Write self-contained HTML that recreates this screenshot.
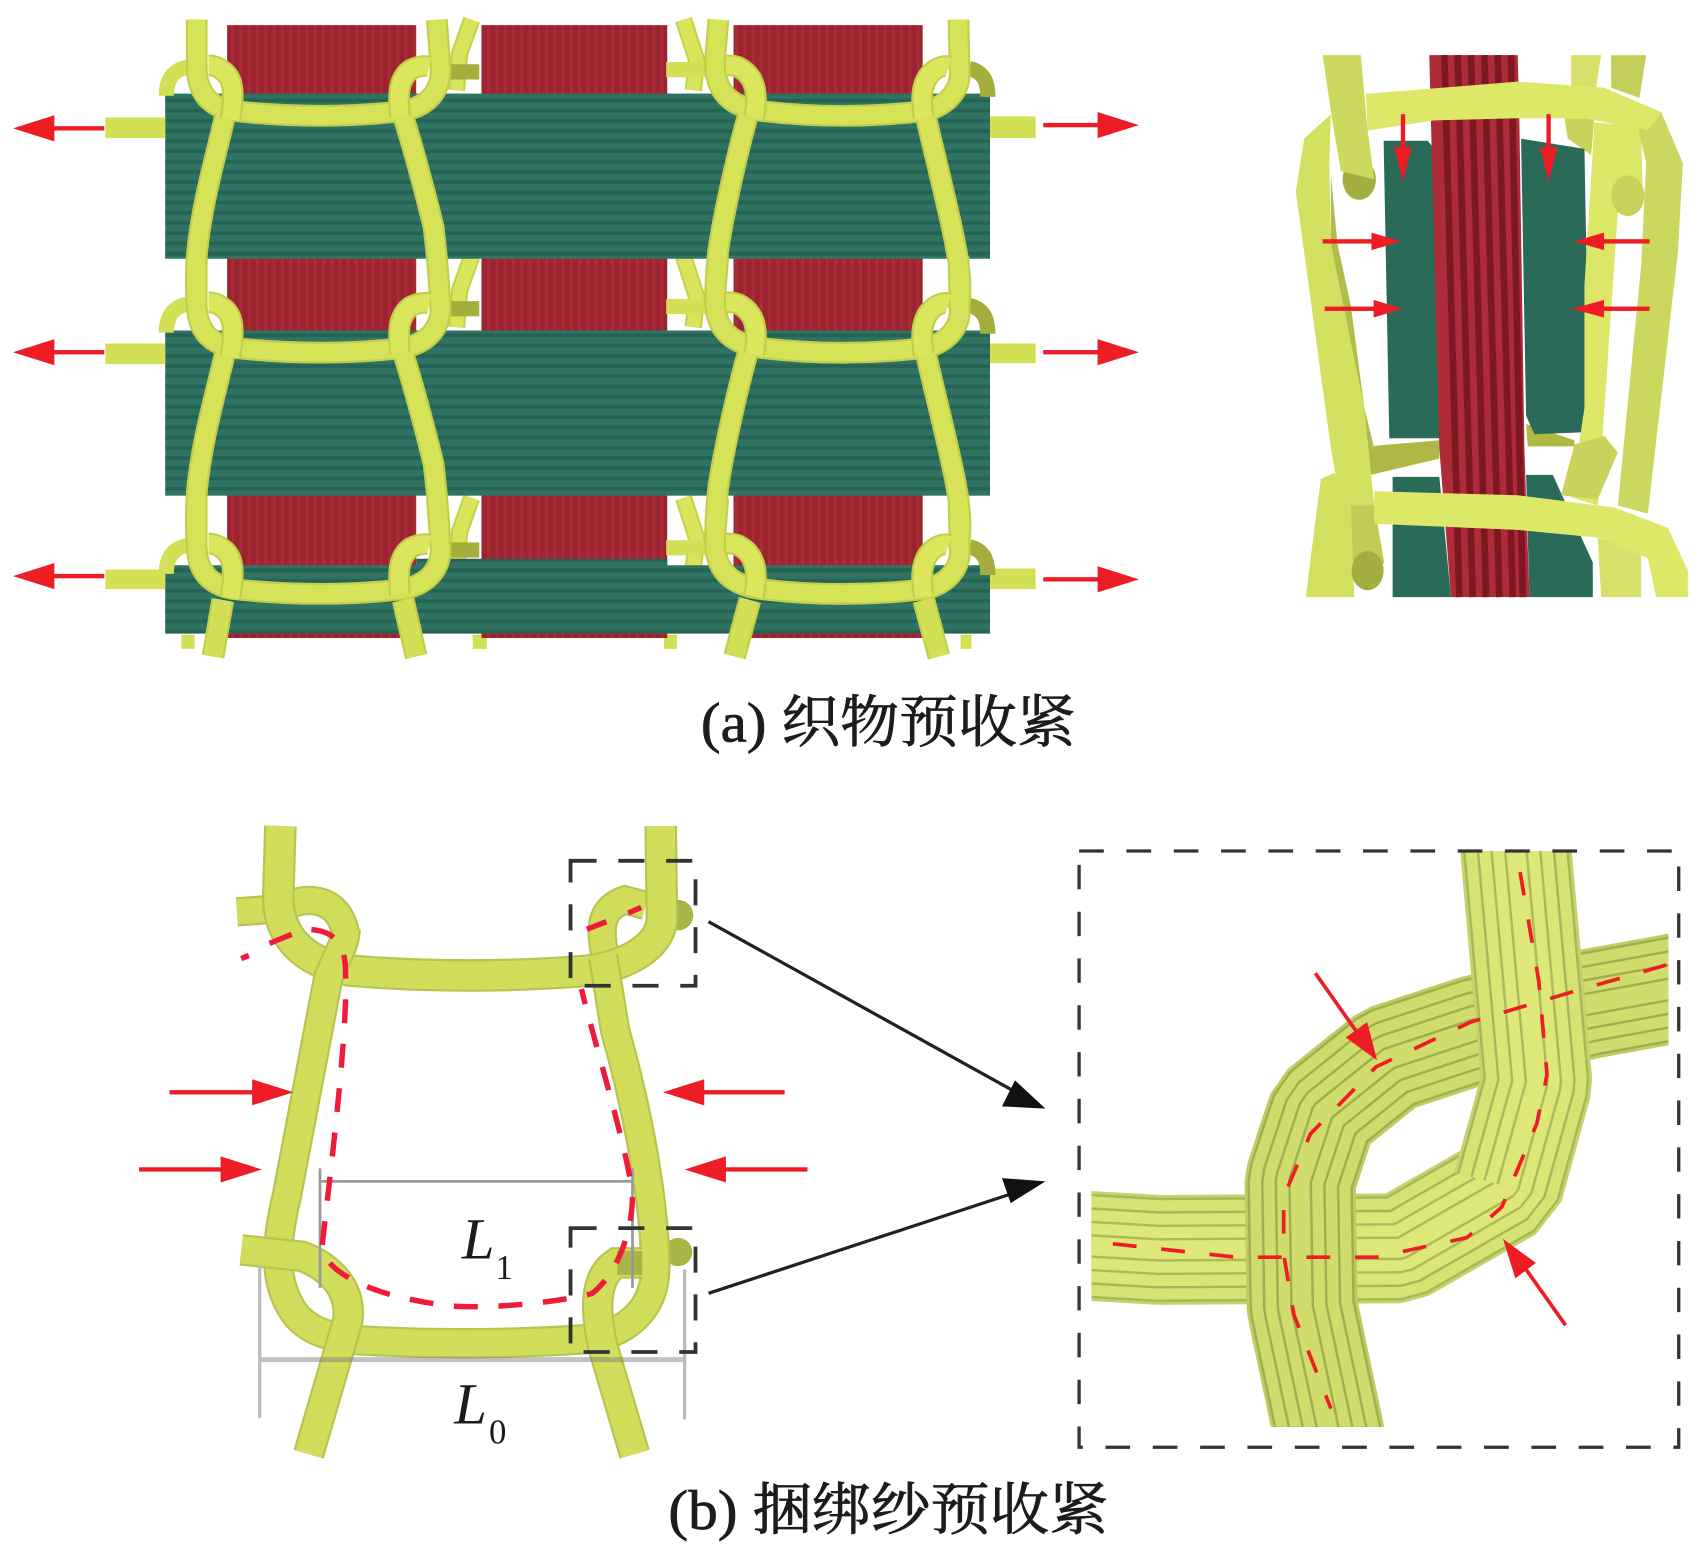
<!DOCTYPE html>
<html><head><meta charset="utf-8"><style>
html,body{margin:0;padding:0;background:#fff}
svg{display:block}
text{font-family:"Liberation Serif","Noto Serif CJK SC",serif;fill:#1c1c1c}
</style></head><body>
<svg width="1704" height="1551" viewBox="0 0 1568 1427" xmlns="http://www.w3.org/2000/svg">
<defs>
<pattern id="rp" patternUnits="userSpaceOnUse" width="7.6" height="10"><rect width="7.6" height="10" fill="#9a2430"/><rect width="2.6" height="10" fill="#b02a36"/></pattern>
<pattern id="gp" patternUnits="userSpaceOnUse" width="10" height="9.4"><rect width="10" height="9.4" fill="#2f7462"/><rect y="6" width="10" height="3.4" fill="#276354"/></pattern>
<g id="back" fill="none">
<path d="M434,18 L423,49 L420,83"/>
<path d="M629,18 L641,55 L638,83"/>
</g>
<g id="u" fill="none">
<path d="M181,18 L181,61 C181,82 190,98 215,102 C270,108 320,108 372,102 C395,97 408,82 405,58 L402,18"/>
<path d="M661,18 L658,55 C657,82 670,98 700,102 C750,108 800,108 852,102 C872,97 885,82 883,64 L882,18"/>
</g>
<g id="tops" fill="none">
<path d="M212,110 C216,85 215,72 205,65 C200,61 196,60 192,60"/>
<path d="M368,107 C366,85 367,72 378,64 C384,61 390,60 395,61"/>
<path d="M694,108 C698,85 695,70 680,62 C676,60 672,60 668,60"/>
<path d="M850,108 C846,85 850,70 862,63 C866,61 870,60 873,61"/>
</g>
<g id="bodies" fill="none">
<path d="M207,107 C197,150 185,190 181,236 C180,250 180,270 181,283"/>
<path d="M371,107 C380,135 392,180 399,209 C402,235 405,265 405,285"/>
<path d="M688,107 C680,135 666,195 661,230 C658,255 658,270 658,283"/>
<path d="M852,107 C858,135 875,200 880,230 C884,250 885,270 882,285"/>
</g>
<g id="stubsA" fill="none"><path d="M182,62 C165,60 153,68 153,88"/><path d="M613,64 L650,64"/></g>
<g id="stubsB" fill="none"><path d="M414,66 L441,66"/><path d="M892,63 C905,66 909,75 909,89"/></g>
<path id="y1" fill="none" d="M1105,0 L1160,620 L1090,875 L830,1026 L240,1030 L-100,1010"/>
<path id="y1t" fill="none" d="M1105,0 L1160,620 L1090,875"/>
<path id="y2" fill="none" d="M1700,350 L1290,425 L1010,490 L800,560 L640,690 L585,860 L590,1170 L680,1600"/>
<clipPath id="zc"><rect x="78" y="50" width="1402" height="1415"/></clipPath>
<g id="bk" fill="none"><path d="M218,839 L258,836 C287,820 314,830 318,860"/><path d="M557,880 C550,850 555,835 575,828 L594,833"/></g>
<path id="bu" fill="none" d="M258,760 L256,825 C256,860 277,885 322,893 C392,899 472,899 542,893 C577,888 612,870 609,840 L608,760"/>
<path id="bl" fill="none" d="M318,855 C318,870 307,885 302,900 L264,1100 C252,1150 252,1185 274,1212 C287,1225 302,1230 327,1233 C392,1237 472,1237 542,1232 C577,1226 602,1205 603,1168 C603,1120 592,1040 566,948 L555,880"/>
<path id="bc" fill="none" d="M222,1150 L278,1156 C302,1165 324,1185 320,1215 L284,1338"/>
<path id="bd" fill="none" d="M591,1162 L567,1162 C547,1175 547,1205 555,1240 L584,1338"/>
</defs>

<!-- (a) main -->
<g stroke="#c5d24e" stroke-width="16"><use href="#back"/><use href="#back" y="218"/><use href="#back" y="440"/></g>
<g stroke="#d9e45a" stroke-width="12"><use href="#back"/><use href="#back" y="218"/><use href="#back" y="440"/></g>
<g fill="#d3df55"><rect x="167" y="584" width="12" height="13"/><rect x="435" y="584" width="13" height="13"/><rect x="611" y="584" width="12" height="13"/><rect x="884" y="584" width="10" height="13"/></g>
<g fill="url(#rp)">
<rect x="209" y="23" width="174" height="564"/>
<rect x="443" y="23" width="171" height="564"/>
<rect x="675" y="23" width="174" height="564"/>
</g>
<g fill="url(#gp)">
<rect x="152" y="86" width="759" height="152"/>
<rect x="152" y="304" width="759" height="152"/>
<polygon points="152,520 383,520 383,514 614,514 614,520 911,520 911,583 152,583"/>
</g>
<g fill="#d3df55">
<rect x="97" y="108" width="55" height="19"/><rect x="97" y="316" width="55" height="19"/><rect x="97" y="524" width="55" height="18"/>
<rect x="911" y="107" width="42" height="20"/><rect x="911" y="316" width="42" height="18"/><rect x="911" y="523" width="42" height="19"/>
</g>
<g stroke="#d3df55" stroke-width="14"><use href="#stubsA"/><use href="#stubsA" y="218"/><use href="#stubsA" y="440"/></g>
<g stroke="#a5ae3c" stroke-width="14"><use href="#stubsB"/><use href="#stubsB" y="218"/><use href="#stubsB" y="440"/></g>
<g stroke="#c2cf4c" stroke-width="20"><use href="#u"/><use href="#u" y="218"/><use href="#u" y="440"/><use href="#bodies"/><use href="#bodies" y="218"/></g>
<g stroke="#d6e257" stroke-width="16"><use href="#u"/><use href="#u" y="218"/><use href="#u" y="440"/><use href="#bodies"/><use href="#bodies" y="218"/></g>
<path d="M205,552 L196,604 M371,552 L383,604 M690,552 L676,604 M850,552 L864,604" stroke="#c2cf4c" stroke-width="21" fill="none"/>
<path d="M205,552 L196,604 M371,552 L383,604 M690,552 L676,604 M850,552 L864,604" stroke="#d3df55" stroke-width="17" fill="none"/>
<g stroke="#c2cf4c" stroke-width="20"><use href="#tops"/><use href="#tops" y="218"/><use href="#tops" y="440"/></g>
<g stroke="#dbe65c" stroke-width="16"><use href="#tops"/><use href="#tops" y="218"/><use href="#tops" y="440"/></g>
<!-- side arrows -->
<g fill="#ee1c25" stroke="none">
<rect x="40" y="116" width="56" height="4"/><polygon points="12,118 50,106 50,130"/>
<rect x="40" y="322" width="56" height="4"/><polygon points="12,324 50,312 50,336"/>
<rect x="40" y="528" width="56" height="4"/><polygon points="12,530 50,518 50,542"/>
<rect x="960" y="113" width="60" height="4"/><polygon points="1048,115 1010,103 1010,127"/>
<rect x="960" y="322" width="60" height="4"/><polygon points="1048,324 1010,312 1010,336"/>
<rect x="960" y="531" width="60" height="4"/><polygon points="1048,533 1010,521 1010,545"/>
</g>

<!-- (a) side view -->
<g transform="translate(1151,0) scale(.307,.375)">
<polygon points="960,135 1050,135 1035,215 960,215" fill="#d6e06a"/>
<polygon points="1080,135 1185,135 1165,240 1080,215" fill="#c4cf5c"/>
<polygon points="350,1095 565,1080 565,1125 360,1165" fill="#b0b845"/>
<polygon points="825,1040 970,1080 970,1095 830,1095" fill="#b0b845"/>
<polygon points="940,290 1030,290 1020,380 950,340" fill="#c9d35c"/>
<polygon points="398,345 530,345 565,380 583,1075 415,1075" fill="#2a6a58"/>
<polygon points="810,340 1000,365 1015,1060 850,1065 825,1020" fill="#2a6a58"/>
<polygon points="425,1170 565,1170 600,1465 425,1465" fill="#2a6a58"/>
<polygon points="825,1165 905,1165 1025,1380 1025,1465 835,1465" fill="#2a6a58"/>
<polygon points="535,135 800,135 805,300 820,1100 835,1465 600,1465 565,1100 540,300" fill="#ad2c38"/>
<g stroke="#7d1822" stroke-width="20" fill="none">
<path d="M580,135 L625,1465"/><path d="M620,135 L665,1465"/><path d="M660,135 L705,1465"/><path d="M700,135 L745,1465"/><path d="M740,135 L785,1465"/><path d="M780,135 L815,1465"/>
</g>
<polygon points="1030,300 1170,310 1175,500 1100,520 1060,1000 1040,1240 960,1220 1000,1000 1000,700" fill="#dce667"/>
<polygon points="970,1090 1060,1070 1100,1110 1040,1225 930,1215" fill="#c9d35c"/>
<circle cx="1130" cy="480" r="50" fill="#c9d35c"/>
<polygon points="1230,275 1295,400 1280,620 1190,1260 1100,1240 1170,650 1185,400 1160,310" fill="#ccd75f"/>
<polygon points="240,430 260,600 300,750 340,1000 370,1100 345,1100 290,800 240,600" fill="#b2bc4e"/>
<polygon points="240,280 160,340 135,470 160,620 190,800 240,1100 270,1240 370,1240 340,1000 290,800 240,600 235,400" fill="#d3df5f"/>
<polygon points="270,1240 370,1240 400,1380 350,1430 300,1400" fill="#c0ca55"/>
<polygon points="345,230 800,200 1060,215 1230,275 1190,320 1000,290 800,290 550,295 350,320" fill="#dee868"/>
<circle cx="325" cy="440" r="50" fill="#a4ae40"/>
<polygon points="215,135 330,135 350,320 370,440 270,420 245,300" fill="#cdd85f"/>
<polygon points="210,1175 250,1160 300,1240 310,1465 165,1465 190,1300" fill="#d3df5f"/>
<circle cx="350" cy="1400" r="48" fill="#a4ae40"/>
<polygon points="1040,1320 1170,1340 1170,1465 1050,1465" fill="#d6e06a"/>
<polygon points="370,1205 800,1215 1090,1245 1250,1295 1310,1400 1310,1465 1215,1465 1190,1370 1050,1320 800,1300 370,1285" fill="#dee868"/>
</g>
<g fill="#ee1c25" stroke="none">
<rect x="1289" y="105" width="4" height="35"/><polygon points="1291,167 1283,135 1299,135"/>
<rect x="1423" y="105" width="4" height="35"/><polygon points="1425,167 1417,135 1433,135"/>
<rect x="1217" y="220" width="50" height="4"/><polygon points="1289,222 1262,214 1262,230"/>
<rect x="1219" y="282" width="50" height="4"/><polygon points="1291,284 1264,276 1264,292"/>
<rect x="1470" y="220" width="48" height="4"/><polygon points="1448,222 1476,214 1476,230"/>
<rect x="1470" y="282" width="48" height="4"/><polygon points="1446,284 1476,276 1476,292"/>
</g>

<text x="645" y="682" font-size="52" textLength="345" lengthAdjust="spacingAndGlyphs" stroke="#1c1c1c" stroke-width=".7">(a) 织物预收紧</text>

<!-- (b) left -->
<circle cx="624" cy="842" r="14" fill="#a8b444"/>
<circle cx="624" cy="1152" r="13" fill="#a8b444"/>
<g stroke="#b8c450" stroke-width="27"><use href="#bk"/></g>
<g stroke="#d2dd5c" stroke-width="23"><use href="#bk"/></g>
<use href="#bu" stroke="#b8c450" stroke-width="30"/>
<use href="#bu" stroke="#d2dd5c" stroke-width="26"/>
<use href="#bl" stroke="#b8c450" stroke-width="28"/>
<use href="#bl" stroke="#d2dd5c" stroke-width="24"/>
<use href="#bc" stroke="#b8c450" stroke-width="29"/>
<use href="#bc" stroke="#d2dd5c" stroke-width="25"/>
<use href="#bd" stroke="#b8c450" stroke-width="29"/>
<use href="#bd" stroke="#d2dd5c" stroke-width="25"/>
<path d="M568,1162 L591,1162" stroke="#a8b444" stroke-width="22" fill="none"/>
<!-- dims -->
<g fill="none">
<path d="M296,1087 L582,1087 M294.5,1075 L294.5,1185 M582,1075 L582,1185" stroke="#999" stroke-width="2.5"/>
<path d="M239,1251 L630,1251" stroke="#777" stroke-opacity=".45" stroke-width="4.5"/>
<path d="M239,1165 L239,1305 M630,1168 L630,1306" stroke="#bbb" stroke-width="3"/>
</g>
<!-- red dash -->
<path d="M248,868 L280,855 C305,855 318,865 318,895 C320,950 305,1070 296,1150 C305,1175 350,1195 420,1202 C470,1204 530,1195 545,1190 C570,1170 582,1130 582,1100 C578,1060 550,970 535,910" fill="none" stroke="#ee1c3a" stroke-width="5" stroke-dasharray="22 19"/>
<path d="M222,882 L229,879 M540,855 L558,848 M578,840 L590,835" fill="none" stroke="#ee1c3a" stroke-width="5"/>
<!-- dashed boxes -->
<g fill="none" stroke="#333" stroke-width="3.5" stroke-dasharray="24 20">
<rect x="525" y="792" width="115" height="115"/>
<rect x="525" y="1130" width="115" height="114"/>
</g>
<!-- red arrows b -->
<g fill="#ee1c25" stroke="none">
<rect x="156" y="1003" width="84" height="4"/><polygon points="270,1005 232,993 232,1017"/>
<rect x="128" y="1074" width="84" height="4"/><polygon points="241,1076 203,1064 203,1088"/>
<rect x="640" y="1003" width="82" height="4"/><polygon points="610,1005 648,993 648,1017"/>
<rect x="660" y="1074" width="83" height="4"/><polygon points="630,1076 668,1064 668,1088"/>
</g>
<!-- black arrows -->
<line x1="652" y1="848" x2="935" y2="1005" stroke="#222" stroke-width="3"/>
<polygon points="962,1020 922,1018 934,994" fill="#111"/>
<line x1="652" y1="1190" x2="935" y2="1097" stroke="#222" stroke-width="3"/>
<polygon points="962,1087 930,1107 922,1084" fill="#111"/>
<text x="425" y="1158" font-size="54" font-style="italic">L</text>
<text x="456" y="1177" font-size="32">1</text>
<text x="418" y="1310" font-size="54" font-style="italic">L</text>
<text x="450" y="1328" font-size="32">0</text>

<!-- (b) zoom -->
<g transform="translate(974.8,764.3) scale(.3787,.3745)">
<g fill="none" clip-path="url(#zc)">
<g stroke-linejoin="bevel">
<use href="#y1" stroke="#c6d26a" stroke-width="270"/><use href="#y1" stroke="#a9b75a" stroke-width="256"/><use href="#y1" stroke="#d6e272" stroke-width="244"/><use href="#y1" stroke="#a9b75a" stroke-width="190"/><use href="#y1" stroke="#dbe677" stroke-width="178"/><use href="#y1" stroke="#adba5c" stroke-width="124"/><use href="#y1" stroke="#dde878" stroke-width="112"/><use href="#y1" stroke="#adba5c" stroke-width="58"/><use href="#y1" stroke="#dde878" stroke-width="46"/>
<use href="#y2" stroke="#bfcc62" stroke-width="270"/><use href="#y2" stroke="#a0ae50" stroke-width="256"/><use href="#y2" stroke="#cfdb6c" stroke-width="244"/><use href="#y2" stroke="#a0ae50" stroke-width="190"/><use href="#y2" stroke="#d0dc6c" stroke-width="178"/><use href="#y2" stroke="#a0ae50" stroke-width="124"/><use href="#y2" stroke="#d0dc6c" stroke-width="112"/><use href="#y2" stroke="#a0ae50" stroke-width="58"/><use href="#y2" stroke="#d0dc6c" stroke-width="46"/>
<use href="#y1t" stroke="#c6d26a" stroke-width="270"/><use href="#y1t" stroke="#a9b75a" stroke-width="256"/><use href="#y1t" stroke="#d6e272" stroke-width="244"/><use href="#y1t" stroke="#a9b75a" stroke-width="190"/><use href="#y1t" stroke="#dbe677" stroke-width="178"/><use href="#y1t" stroke="#adba5c" stroke-width="124"/><use href="#y1t" stroke="#dde878" stroke-width="112"/><use href="#y1t" stroke="#adba5c" stroke-width="58"/><use href="#y1t" stroke="#dde878" stroke-width="46"/>
</g>
<path d="M130,1015 L430,1048 L770,1048 L990,1000 L1075,925 L1160,720 L1185,600 L1165,370 L1115,75" stroke="#ee1c25" stroke-width="9" stroke-dasharray="58 60"/>
<path d="M1475,330 L1250,395 L1000,470 L770,580 L610,745 L545,900 L545,1040 L570,1190 L660,1420" stroke="#ee1c25" stroke-width="9" stroke-dasharray="58 60"/>
</g>
<g>
<line x1="622" y1="350" x2="730" y2="505" stroke="#ee1c25" stroke-width="9"/><polygon points="772,564 696,508 748,470" fill="#ee1c25"/>
<line x1="1230" y1="1215" x2="1125" y2="1065" stroke="#ee1c25" stroke-width="9"/><polygon points="1078,1003 1158,1062 1108,1100" fill="#ee1c25"/>
</g>
<rect x="48" y="50" width="1457" height="1465" fill="none" stroke="#333" stroke-width="8" stroke-dasharray="60 55"/>
</g>

<text x="615" y="1407" font-size="52" textLength="405" lengthAdjust="spacingAndGlyphs" stroke="#1c1c1c" stroke-width=".7">(b) 捆绑纱预收紧</text>
</svg>
</body></html>
